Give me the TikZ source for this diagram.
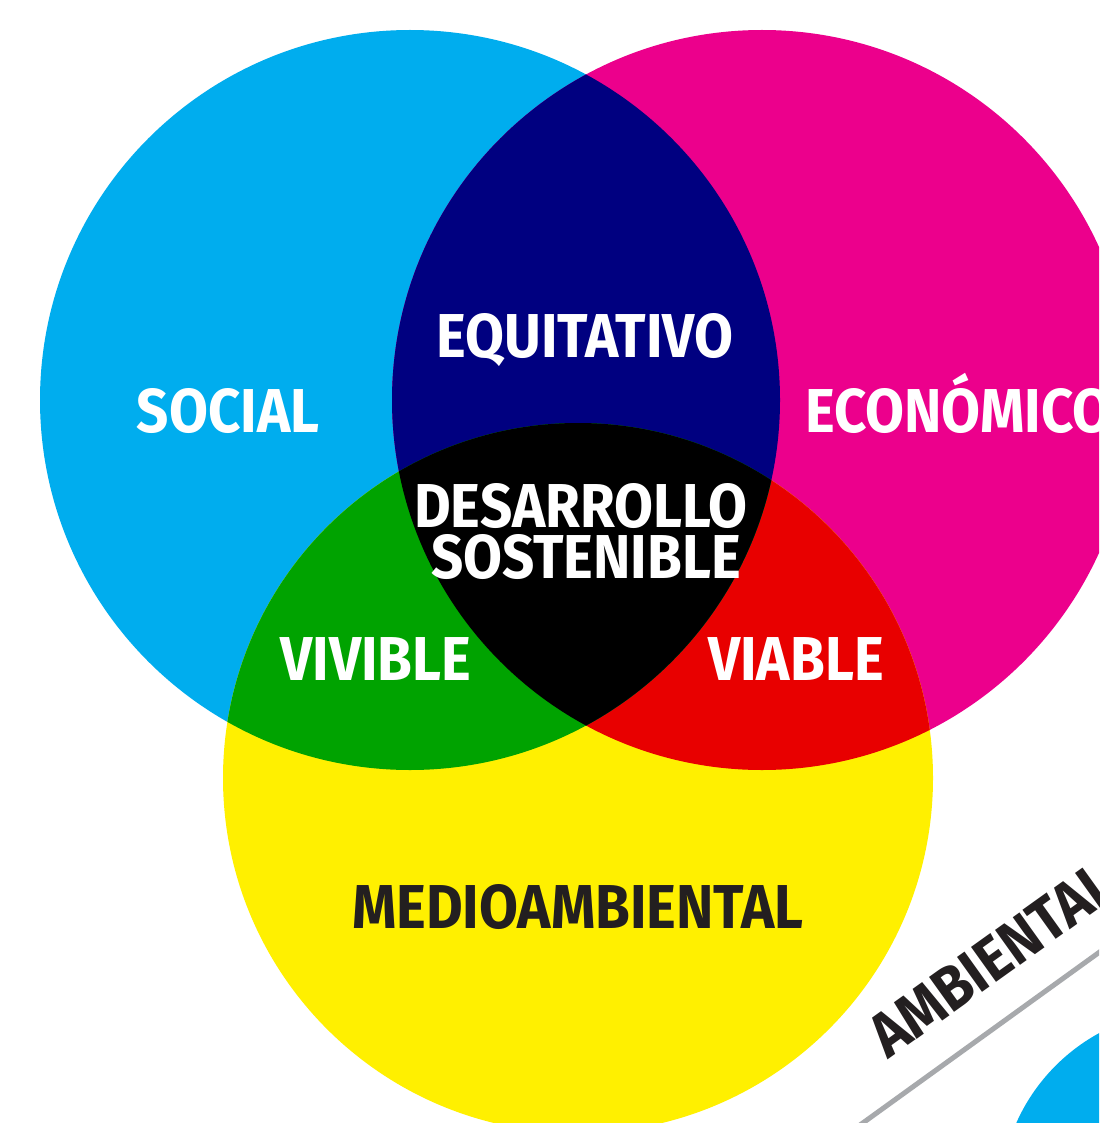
\documentclass[tikz,border=0pt]{standalone}
\usepackage{fontspec}
\setmainfont{Fira Sans}[FakeStretch=0.91]
\definecolor{socialc}{HTML}{00ADEE}
\definecolor{econc}{HTML}{EC008C}
\definecolor{medioc}{HTML}{FFF000}
\definecolor{equic}{HTML}{000080}
\definecolor{vivic}{HTML}{00A300}
\definecolor{viabc}{HTML}{E80000}
\definecolor{darkc}{HTML}{231F20}
\definecolor{linec}{HTML}{A7A9AC}
\tikzset{lab/.style={font=\bfseries\fontsize{62}{62}\selectfont, text=white, inner sep=0pt, anchor=base}}

\begin{document}
\begin{tikzpicture}[x=1pt,y=-1pt]
    \useasboundingbox (0,0) rectangle (1099,1123);
    \clip (0,0) rectangle (1099,1123);
    \fill[white] (0,0) rectangle (1099,1123);
    \coordinate (cSocial) at (410,400);
    \coordinate (cEcon) at (762,400);
    \coordinate (cMedio) at (578,778);
    \fill[socialc] (cSocial) circle[radius=370pt];
    \fill[econc] (cEcon) circle[radius=370pt];
    \fill[medioc] (cMedio) circle[radius=355pt];
    \begin{scope}
      \clip (cEcon) circle[radius=370pt];
      \fill[viabc] (cMedio) circle[radius=355pt];
    \end{scope}
    \begin{scope}
      \clip (cSocial) circle[radius=370pt];
      \fill[equic] (cEcon) circle[radius=370pt];
      \fill[vivic] (cMedio) circle[radius=355pt];
      \clip (cEcon) circle[radius=370pt];
      \fill[black] (cMedio) circle[radius=355pt];
    \end{scope}
    \coordinate (cCorner) at (1190,1200);
    \fill[socialc] (cCorner) circle[radius=190pt];
    \coordinate (lnA) at (860,1125);
    \coordinate (lnB) at (1101,951);
    \draw[linec, line width=5pt] (lnA) -- (lnB);
    \foreach \x/\y/\lab/\tx in {
      228/432/lSocial/SOCIAL,
      585/357/lEqui/EQUITATIVO,
      581/527/lDesa/DESARROLLO,
      586/578/lSost/SOSTENIBLE,
      376/680/lVivi/VIVIBLE,
      796/680/lViab/VIABLE%
    } {
      \node[lab] (\lab) at (\x,\y) {\tx};
    }
    \node[lab, anchor=base west] (lEcon) at (805,432) {ECONÓMICO};
    \node[lab, text=darkc] (lMedio) at (578,928) {MEDIOAMBIENTAL};
    \node[lab, text=darkc, anchor=base west, rotate=35.6] (lAmb) at (888,1060) {AMBIENTAL};
  \end{tikzpicture}
\end{document}
